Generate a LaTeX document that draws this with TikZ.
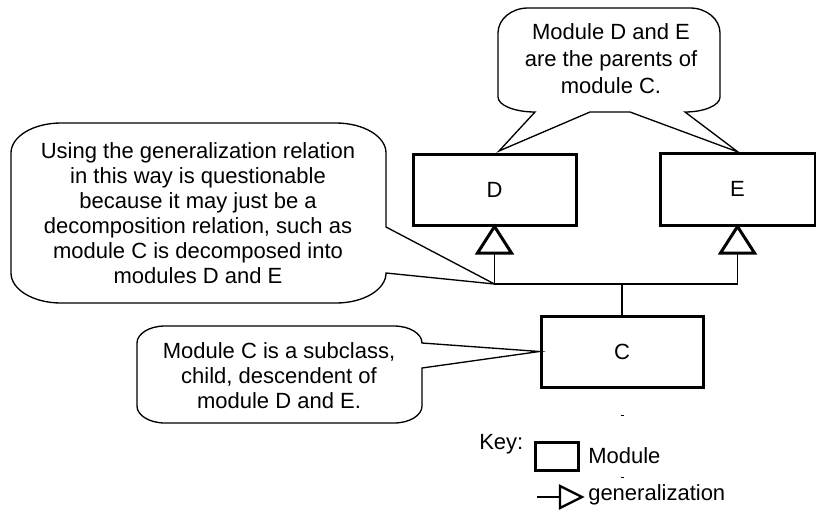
\documentclass[tikz,border=0pt]{standalone}
\usepackage{fontspec}
\setmainfont{Liberation Sans}
\usetikzlibrary{calc}
\begin{document}
\begin{tikzpicture}[x=0.75pt,y=-0.75pt,
  txt/.style={font=\fontsize{16.5}{18.75}\selectfont, inner sep=0pt},
  module/.style={draw, line width=2.25pt, minimum width=122.25pt, minimum height=53.25pt,
    inner sep=0pt, font=\fontsize{16.5}{18.75}\selectfont},
  bubble/.style={draw, line width=1pt, line join=miter, fill=white},
  gen/.style={draw, line width=2.25pt, fill=white, line join=miter},
  link/.style={line width=1.1pt}
]
\useasboundingbox (0,0) rectangle (816,511);

% modules
\node[module] (D) at (494.5,189.5) {D};
\node[module, minimum width=116.25pt, minimum height=54pt] (E) at (737.5,189) {E};
\node[module, minimum width=121.5pt] (C) at (622,351.5) {C};

% generalization arrows from C up to D and E
\coordinate (dB) at ($(D.south)+(0,26.5)$);
\coordinate (eB) at ($(E.south)+(0,26.5)$);
\coordinate (jD) at (494.5,284);
\coordinate (jE) at (737.5,284);
\coordinate (jC) at (622,284);
\draw[link] (dB) -- (jD) -- (jE) -- (eB);
\draw[line width=1.5pt] (jC) -- (C.north);
\draw[gen] (D.south) -- ($(D.south)+(-17,26.5)$) -- ($(D.south)+(17,26.5)$) -- cycle;
\draw[gen] (E.south) -- ($(E.south)+(-17,26.5)$) -- ($(E.south)+(17,26.5)$) -- cycle;

% callout over D and E
\coordinate (tD) at (499,151);
\coordinate (tE) at (738,152);
\draw[bubble] (498,33) .. controls (498,19.2) and (511.4,8) .. (528,8) -- (690,8)
  .. controls (706.6,8) and (720,19.2) .. (720,33) -- (720,97)
  .. controls (720,105.3) and (704.3,112) .. (685,112) -- (tE) -- (630,112) -- (590,112)
  -- (tD) -- (535,112) .. controls (514.6,112) and (498,105.3) .. (498,97) -- cycle;
\node[txt, font=\fontsize{16.5}{19.9}\selectfont, align=center, anchor=base] (nq) at (611,93)
  {Module D and E\\are the parents of\\module C.};

% callout on the generalization relation
\draw[bubble] (11,153) .. controls (11,136.4) and (33.4,123) .. (61,123) -- (336,123)
  .. controls (363.6,123) and (386,136.4) .. (386,153) -- (386,227) -- (jD) -- (386,273)
  .. controls (386,289.6) and (363.6,303) .. (336,303) -- (61,303)
  .. controls (33.4,303) and (11,289.6) .. (11,273) -- cycle;
\node[txt, align=center, anchor=base] (nl) at (198,283)
  {Using the generalization relation\\in this way is questionable\\because it may just be a\\decomposition relation, such as\\module C is decomposed into\\modules D and E};

% callout on C
\draw[bubble] (137,343) .. controls (137,333.6) and (149.5,326) .. (165,326) -- (394,326)
  .. controls (409.5,326) and (422,333.6) .. (422,343) -- (C.west) -- (422,368) -- (422,406)
  .. controls (422,415.4) and (409.5,423) .. (394,423) -- (165,423)
  .. controls (149.5,423) and (137,415.4) .. (137,406) -- cycle;
\node[txt, align=center, anchor=base] (nc) at (279,408)
  {Module C is a subclass,\\child, descendent of\\module D and E.};

% key
\node[txt, anchor=base west] (key) at (479,449) {Key:};
\node[draw, line width=2.25pt, minimum width=32.25pt, minimum height=21pt, inner sep=0pt]
  (kbox) at (556.5,456) {};
\node[txt, anchor=base west] (kmod) at (588,463) {Module};
\coordinate (k1) at (537,497);
\coordinate (k2) at (560,497);
\draw[line width=1.5pt] (k1) -- (k2);
\draw[gen, line width=1.8pt] (k2) -- (560,486) -- (582,497) -- (560,508) -- cycle;
\node[txt, anchor=base west] (kgen) at (588,500) {generalization};
\draw[line width=0.75pt] (620.5,415) -- (623.5,415);
\draw[line width=0.75pt] (620.5,477) -- (623.5,477);
\end{tikzpicture}
\end{document}
